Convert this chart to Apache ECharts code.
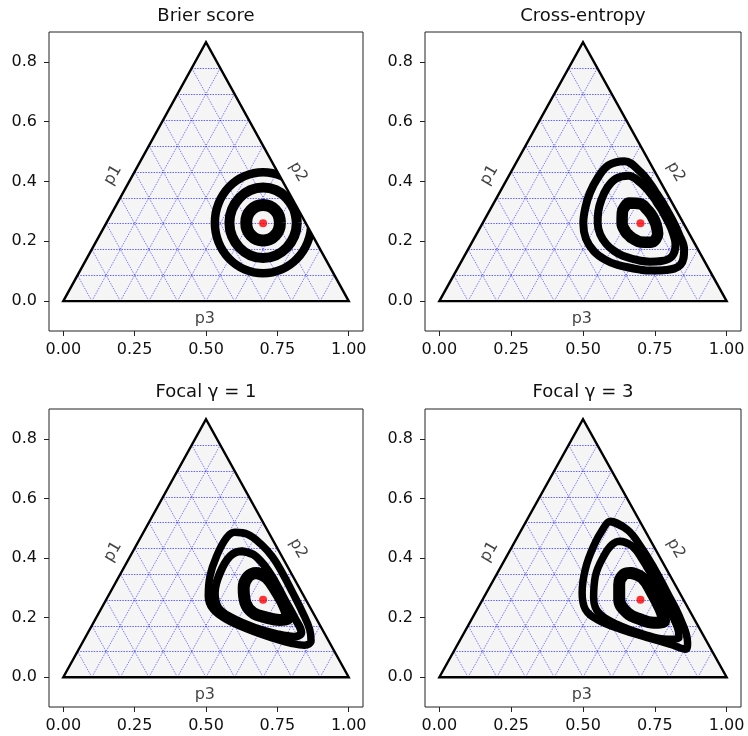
<!DOCTYPE html>
<html>
<head>
<meta charset="utf-8">
<script src="https://cdn.jsdelivr.net/npm/echarts@6/dist/echarts.min.js"></script>
<style>
  html, body { margin: 0; padding: 0; background: #fff; }
  #main { width: 748px; height: 736px; }
</style>
</head>
<body>
<div id="main"></div>
<script>
// panel titles and axis ticks
const titles = ['Brier score', 'Cross-entropy', 'Focal γ = 1', 'Focal γ = 3'];
const xTicks = [0, 0.25, 0.5, 0.75, 1.0];
const yTicks = [0, 0.2, 0.4, 0.6, 0.8];

// simplex corners, grid steps, target point, edge labels
const corners = [[0, 0], [1, 0], [0.5, 0.866]];
const gridSteps = [0.1, 0.2, 0.3, 0.4, 0.5, 0.6, 0.7, 0.8, 0.9];
const target = [0.7, 0.26];
const edgeNames = ['p1', 'p2', 'p3'];
const edgeLabelPos = [[0.174, 0.421], [0.823, 0.432], [0.496, -0.058]];

// level-set bands (inner, middle, outer)
const brierBands = [
  [[0.759,0.262],[0.755,0.285],[0.742,0.304],[0.723,0.317],[0.700,0.321],[0.677,0.317],[0.658,0.304],[0.645,0.285],
   [0.641,0.262],[0.645,0.239],[0.658,0.220],[0.677,0.207],[0.700,0.203],[0.723,0.207],[0.742,0.220],[0.755,0.239]],
  [[0.818,0.262],[0.809,0.307],[0.783,0.345],[0.745,0.371],[0.700,0.380],[0.655,0.371],[0.617,0.345],[0.591,0.307],
   [0.582,0.262],[0.591,0.217],[0.617,0.179],[0.655,0.153],[0.700,0.144],[0.745,0.153],[0.783,0.179],[0.809,0.217]],
  [[0.869,0.262],[0.856,0.327],[0.819,0.382],[0.765,0.418],[0.700,0.431],[0.635,0.418],[0.581,0.382],[0.544,0.327],
   [0.531,0.262],[0.544,0.197],[0.581,0.142],[0.635,0.106],[0.700,0.093],[0.765,0.106],[0.819,0.142],[0.856,0.197]]
];
const crossEntropyBands = [
  [[0.753,0.260],[0.741,0.284],[0.734,0.294],[0.725,0.304],[0.700,0.325],[0.661,0.328],[0.645,0.315],[0.637,0.297],
   [0.636,0.260],[0.649,0.231],[0.660,0.220],[0.671,0.211],[0.700,0.198],[0.737,0.197],[0.753,0.207],[0.760,0.225]],
  [[0.799,0.260],[0.775,0.303],[0.762,0.322],[0.748,0.343],[0.729,0.367],[0.700,0.396],[0.658,0.419],[0.614,0.409],
   [0.583,0.377],[0.564,0.339],[0.553,0.299],[0.551,0.260],[0.560,0.223],[0.581,0.191],[0.608,0.168],[0.638,0.152],
   [0.700,0.135],[0.734,0.132],[0.773,0.134],[0.810,0.150],[0.822,0.189],[0.812,0.230]],
  [[0.817,0.260],[0.788,0.311],[0.774,0.334],[0.757,0.359],[0.735,0.391],[0.700,0.432],[0.644,0.468],[0.588,0.454],
   [0.550,0.410],[0.524,0.362],[0.508,0.312],[0.501,0.260],[0.510,0.209],[0.538,0.167],[0.578,0.138],[0.620,0.121],
   [0.700,0.105],[0.742,0.102],[0.790,0.104],[0.839,0.121],[0.852,0.172],[0.834,0.224]]
];
const focal1Bands = [
  [[0.677,0.350],[0.712,0.334],[0.746,0.289],[0.775,0.239],[0.787,0.200],[0.758,0.192],[0.712,0.200],[0.665,0.216],
   [0.638,0.250],[0.632,0.300],[0.647,0.337]],
  [[0.624,0.423],[0.665,0.412],[0.706,0.373],[0.741,0.322],[0.775,0.261],[0.810,0.200],[0.834,0.150],[0.810,0.136],
   [0.752,0.144],[0.671,0.166],[0.589,0.200],[0.543,0.233],[0.531,0.283],[0.549,0.350],[0.584,0.406]],
  [[0.601,0.486],[0.647,0.479],[0.694,0.445],[0.735,0.401],[0.770,0.345],[0.804,0.283],[0.839,0.216],[0.863,0.161],
   [0.868,0.122],[0.845,0.107],[0.799,0.114],[0.729,0.133],[0.647,0.161],[0.572,0.194],[0.525,0.228],[0.508,0.272],
   [0.514,0.339],[0.537,0.406],[0.572,0.468]]
];
const focal3Bands = [
  [[0.665,0.350],[0.706,0.334],[0.741,0.283],[0.770,0.228],[0.782,0.188],[0.747,0.183],[0.700,0.194],[0.654,0.216],
   [0.626,0.261],[0.626,0.311],[0.642,0.345]],
  [[0.630,0.456],[0.671,0.440],[0.706,0.395],[0.747,0.328],[0.788,0.250],[0.829,0.166],[0.834,0.133],[0.794,0.127],
   [0.712,0.144],[0.619,0.177],[0.555,0.216],[0.537,0.267],[0.543,0.339],[0.572,0.406],[0.601,0.445]],
  [[0.595,0.523],[0.654,0.495],[0.700,0.440],[0.747,0.367],[0.794,0.283],[0.840,0.194],[0.864,0.116],[0.858,0.094],
   [0.805,0.110],[0.724,0.133],[0.630,0.161],[0.549,0.194],[0.508,0.228],[0.497,0.283],[0.508,0.362],[0.537,0.440],
   [0.572,0.501]]
];

const panelBands = [brierBands, crossEntropyBands, focal1Bands, focal3Bands];
const bandWidths = [[12, 10, 8.5], [11.5, 8, 8], [12, 8, 7.5], [12, 7.5, 7.5]];

const frames = [
  { left: 49, top: 32, width: 314, height: 299 },
  { left: 425, top: 32, width: 316, height: 299 },
  { left: 49, top: 409, width: 314, height: 298 },
  { left: 425, top: 409, width: 316, height: 298 }
];
const titleY = [16, 16, 392, 392];

const FONT = 'DejaVu Sans';
const INK = '#111';

function lerp(p, q, t) {
  return [p[0] + (q[0] - p[0]) * t, p[1] + (q[1] - p[1]) * t];
}

// dotted barycentric grid, built from the corners and the steps
function gridSegments() {
  const [A, B, C] = corners;
  const segs = [];
  gridSteps.forEach(t => {
    segs.push([lerp(A, C, t), lerp(B, C, t), true]);
    segs.push([lerp(A, B, t), lerp(C, B, t), false]);
    segs.push([lerp(B, A, t), lerp(C, A, t), false]);
  });
  return segs;
}

// white strip just outside the right edge: bands are only drawn inside the simplex
function outsideStrip() {
  const [, B, C] = corners;
  const p = lerp(B, C, 0.08), q = lerp(B, C, 0.72);
  const n = [0.866 * 0.09, 0.5 * 0.09];
  return [p, q, [q[0] + n[0], q[1] + n[1]], [p[0] + n[0], p[1] + n[1]]];
}

function closeLoop(pts) {
  return pts.concat([pts[0], pts[1]]);
}

const grids = [], xAxes = [], yAxes = [], series = [], graphics = [];

frames.forEach((f, i) => {
  grids.push(Object.assign({ show: true, borderColor: '#222', borderWidth: 1, containLabel: false }, f));
  xAxes.push({
    gridIndex: i, type: 'value', min: -0.05, max: 1.05,
    axisLine: { show: false, onZero: false }, splitLine: { show: false },
    axisTick: { show: true, length: 5, customValues: xTicks, lineStyle: { color: '#222', width: 1 } },
    axisLabel: { customValues: xTicks, formatter: v => v.toFixed(2), fontSize: 16, color: INK, fontFamily: FONT, margin: 11 }
  });
  yAxes.push({
    gridIndex: i, type: 'value', min: -0.1, max: 0.9,
    axisLine: { show: false, onZero: false }, splitLine: { show: false },
    axisTick: { show: true, length: 5, customValues: yTicks, lineStyle: { color: '#222', width: 1 } },
    axisLabel: { customValues: yTicks, formatter: v => v.toFixed(1), fontSize: 16, color: INK, fontFamily: FONT, margin: 12 }
  });

  // simplex fill and dotted grid
  series.push({
    type: 'custom', xAxisIndex: i, yAxisIndex: i, z: 1, silent: true,
    data: [0],
    renderItem: (params, api) => ({
      type: 'group',
      children: [{
        type: 'polygon',
        shape: { points: corners.map(c => api.coord(c)) },
        style: { fill: '#f5f5f5', stroke: 'none' }
      }].concat(gridSegments().map(s => {
        const p = api.coord(s[0]), q = api.coord(s[1]);
        // keep horizontal rules on a pixel row so they stay crisp
        const y1 = s[2] ? Math.round(p[1]) + 0.5 : p[1];
        const y2 = s[2] ? y1 : q[1];
        return {
          type: 'line',
          shape: { x1: p[0], y1: y1, x2: q[0], y2: y2 },
          style: { stroke: '#0000ff', opacity: s[2] ? 0.6 : 0.5, lineWidth: 1, lineDash: [1.5, 1.2] }
        };
      }))
    })
  });
  // level-set bands
  panelBands[i].forEach((pts, k) => {
    series.push({
      type: 'line', xAxisIndex: i, yAxisIndex: i, z: 2, silent: true,
      data: closeLoop(pts),
      smooth: 0.4, symbol: 'none',
      lineStyle: { color: '#000', width: bandWidths[i][k], join: 'round', cap: 'butt' }
    });
  });
  // mask outside the right edge
  series.push({
    type: 'custom', xAxisIndex: i, yAxisIndex: i, z: 3, silent: true,
    data: [0],
    renderItem: (params, api) => ({
      type: 'polygon',
      shape: { points: outsideStrip().map(c => api.coord(c)) },
      style: { fill: '#fff', stroke: 'none' }
    })
  });
  // outline
  series.push({
    type: 'line', xAxisIndex: i, yAxisIndex: i, z: 4, silent: true,
    data: corners.concat([corners[0], corners[1]]),
    symbol: 'none', lineStyle: { color: '#000', width: 2.4, join: 'miter' }
  });
  // target
  series.push({
    type: 'scatter', xAxisIndex: i, yAxisIndex: i, z: 5, silent: true,
    data: [target], symbolSize: 8, itemStyle: { color: '#ff0000' }
  });
  // edge labels
  series.push({
    type: 'scatter', xAxisIndex: i, yAxisIndex: i, z: 6, silent: true,
    symbolSize: 1, itemStyle: { color: 'rgba(0,0,0,0)' },
    data: edgeLabelPos.map((p, k) => ({
      value: p,
      label: {
        show: true, position: 'inside', formatter: edgeNames[k],
        rotate: k === 0 ? 60 : (k === 1 ? -60 : 0),
        fontSize: 16, color: INK, fontFamily: FONT
      }
    }))
  });

  graphics.push({
    type: 'text', x: f.left + f.width / 2, y: titleY[i], silent: true,
    style: { text: titles[i], textAlign: 'center', textVerticalAlign: 'middle', font: '18px "' + FONT + '"', fill: INK }
  });
});

const chart = echarts.init(document.getElementById('main'));
chart.setOption({
  animation: false,
  backgroundColor: '#fff',
  grid: grids,
  xAxis: xAxes,
  yAxis: yAxes,
  series: series,
  graphic: graphics
});
</script>
</body>
</html>
